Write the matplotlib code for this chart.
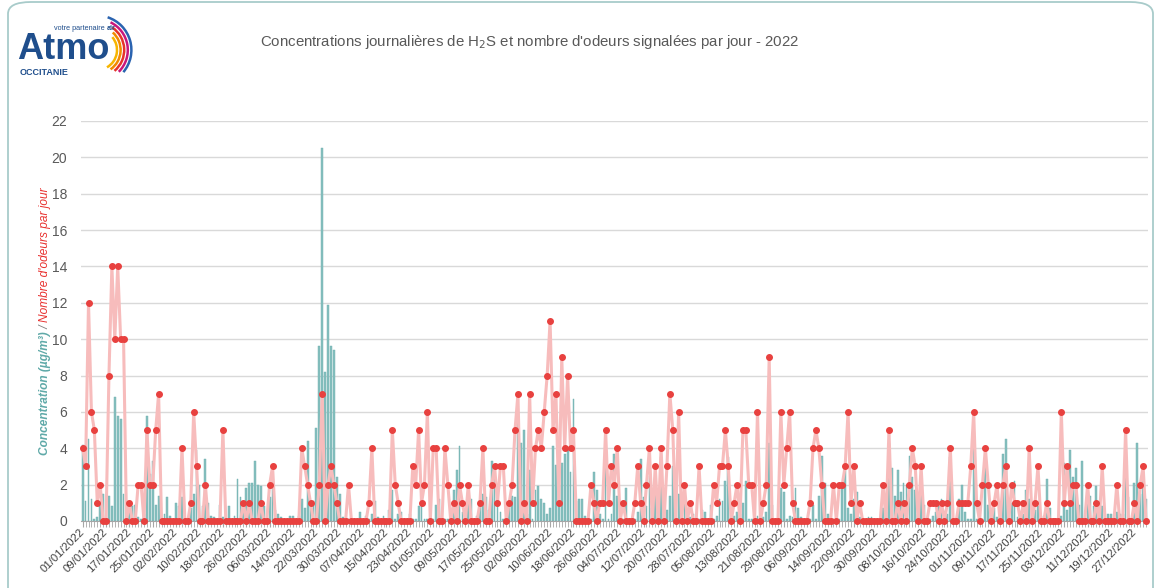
import matplotlib.pyplot as plt
import numpy as np
import pandas as pd
from matplotlib.patches import FancyBboxPatch, Arc

# daily values 2022 (one line = 30 days)
dates = pd.date_range("2022-01-01", "2022-12-31", freq="D")

concentration = [
    4.2, 1.1, 4.5, 1.2, 0.1, 0.2, 1.0, 1.5, 0.1, 1.4, 0.8, 6.8, 5.8, 5.6, 1.5, 0.4, 0.7, 0.8, 0.9, 0.2, 0.1, 0.4, 5.8, 2.6, 3.3, 0.9, 1.4, 0.1, 0.4, 1.3,
    0.3, 0.1, 1.0, 0.8, 1.3, 0.1, 0.1, 0.7, 1.5, 3.9, 2.0, 0.8, 3.4, 1.0, 0.3, 0.2, 0.1, 0.9, 0.2, 0.1, 0.8, 0.1, 0.3, 2.3, 1.3, 0.8, 1.8, 2.1, 2.1, 3.3,
    2.0, 1.9, 0.8, 0.1, 1.3, 2.3, 0.6, 0.4, 0.2, 0.1, 0.1, 0.3, 0.3, 0.1, 0.3, 1.2, 0.7, 4.4, 1.1, 1.1, 5.1, 9.6, 20.5, 8.2, 11.9, 9.6, 9.4, 2.4, 1.5, 0.2,
    0.1, 0.1, 0.1, 0.1, 0.1, 0.5, 0.1, 0.3, 0.1, 0.4, 1.1, 0.2, 0.1, 0.3, 0.1, 0.6, 1.7, 0.1, 0.4, 0.5, 0.1, 0.1, 0.4, 0.1, 0.1, 0.8, 1.6, 0.1, 0.1, 0.1,
    0.1, 0.9, 1.2, 0.1, 0.1, 0.1, 0.1, 1.7, 2.8, 4.1, 0.5, 0.1, 1.5, 1.2, 0.1, 0.3, 1.0, 1.5, 1.3, 0.6, 3.3, 2.3, 1.0, 0.5, 0.1, 0.1, 0.8, 1.4, 1.3, 6.0,
    4.3, 5.0, 0.4, 2.8, 0.1, 1.7, 1.9, 1.2, 1.0, 0.4, 0.7, 4.1, 3.1, 1.9, 3.2, 3.7, 4.0, 2.7, 6.7, 1.1, 1.2, 1.2, 0.3, 0.1, 0.1, 2.7, 1.7, 0.4, 0.1, 2.9,
    0.1, 0.4, 3.7, 1.4, 0.1, 0.1, 1.8, 0.1, 0.1, 0.1, 0.5, 3.4, 1.3, 0.8, 2.5, 0.7, 1.5, 1.4, 3.5, 0.8, 0.6, 1.4, 3.0, 0.1, 1.5, 0.1, 1.9, 0.6, 0.2, 0.4,
    0.1, 0.1, 0.6, 0.5, 0.1, 0.9, 0.1, 0.3, 1.2, 1.1, 2.2, 3.5, 0.1, 0.3, 0.5, 0.4, 1.0, 2.2, 0.1, 0.1, 0.1, 0.3, 0.3, 0.2, 0.5, 4.3, 0.9, 0.1, 0.1, 1.8,
    1.6, 0.1, 0.3, 0.2, 1.8, 0.7, 0.2, 0.1, 0.1, 0.1, 0.9, 0.1, 1.4, 3.6, 2.1, 0.4, 0.1, 0.1, 0.1, 0.1, 2.1, 2.8, 0.7, 0.4, 1.2, 1.6, 0.2, 0.1, 0.1, 0.2,
    0.2, 0.1, 0.1, 0.1, 0.7, 0.5, 4.3, 2.9, 1.4, 2.8, 1.6, 2.1, 2.0, 3.6, 2.4, 1.7, 0.4, 2.0, 0.9, 0.1, 0.1, 0.3, 0.5, 0.8, 1.2, 0.5, 0.4, 3.5, 0.1, 0.1,
    1.2, 2.0, 0.5, 0.1, 0.1, 4.1, 0.1, 0.1, 0.1, 3.0, 0.9, 0.5, 0.7, 0.2, 1.0, 3.7, 4.5, 0.1, 1.0, 2.2, 0.2, 0.1, 0.4, 1.7, 1.2, 0.1, 0.6, 0.8, 0.1, 0.3,
    2.3, 0.7, 0.1, 0.1, 0.1, 0.3, 3.2, 0.6, 3.9, 2.4, 2.9, 0.9, 3.3, 0.1, 1.0, 1.4, 0.8, 1.9, 0.4, 0.8, 0.1, 0.4, 0.4, 0.1, 0.5, 0.4, 0.4, 2.8, 1.3, 0.1,
    2.1, 4.3, 1.5, 2.4, 1.2,
]

odeurs = [
    4, 3, 12, 6, 5, 1, 2, 0, 0, 8, 14, 10, 14, 10, 10, 0, 1, 0, 0, 2, 2, 0, 5, 2, 2, 5, 7, 0, 0, 0,
    0, 0, 0, 0, 4, 0, 0, 1, 6, 3, 0, 0, 2, 0, 0, 0, 0, 0, 5, 0, 0, 0, 0, 0, 0, 1, 0, 1, 0, 0,
    0, 1, 0, 0, 2, 3, 0, 0, 0, 0, 0, 0, 0, 0, 0, 4, 3, 2, 1, 0, 0, 2, 7, 0, 2, 3, 2, 1, 0, 0,
    0, 2, 0, 0, 0, 0, 0, 0, 1, 4, 0, 0, 0, 0, 0, 0, 5, 2, 1, 0, 0, 0, 0, 3, 2, 5, 1, 2, 6, 0,
    4, 4, 0, 0, 4, 2, 0, 1, 0, 2, 1, 0, 2, 0, 0, 0, 1, 4, 0, 0, 2, 3, 1, 3, 3, 0, 1, 2, 5, 7,
    0, 1, 0, 7, 1, 4, 5, 4, 6, 8, 11, 5, 7, 1, 9, 4, 8, 4, 5, 0, 0, 0, 0, 0, 2, 1, 0, 1, 1, 5,
    1, 3, 2, 4, 0, 1, 0, 0, 0, 1, 3, 1, 0, 2, 4, 0, 3, 0, 4, 0, 3, 7, 5, 0, 6, 0, 2, 0, 1, 0,
    0, 3, 0, 0, 0, 0, 2, 1, 3, 3, 5, 3, 0, 1, 2, 0, 5, 5, 2, 2, 0, 6, 0, 1, 2, 9, 0, 0, 0, 6,
    2, 4, 6, 1, 0, 0, 0, 0, 0, 1, 4, 5, 4, 2, 0, 0, 0, 2, 0, 2, 2, 3, 6, 1, 3, 0, 1, 0, 0, 0,
    0, 0, 0, 0, 2, 0, 5, 0, 0, 1, 0, 1, 0, 2, 4, 3, 0, 3, 0, 0, 1, 1, 1, 0, 1, 0, 1, 4, 0, 0,
    1, 1, 1, 1, 3, 6, 1, 0, 2, 4, 2, 0, 1, 2, 0, 2, 3, 0, 2, 1, 1, 0, 1, 0, 4, 0, 1, 3, 0, 0,
    1, 0, 0, 0, 0, 6, 1, 3, 1, 2, 2, 0, 0, 0, 2, 0, 0, 1, 0, 3, 0, 0, 0, 0, 2, 0, 0, 5, 0, 0,
    1, 0, 2, 3, 0,
]

title = "Concentrations journalières de H$_2$S et nombre d'odeurs signalées par jour - 2022"

plt.rcParams['font.family'] = ['Liberation Sans', 'DejaVu Sans']

W, H = 1155, 588
fig = plt.figure(figsize=(W / 100, H / 100), dpi=100)

ax = fig.add_axes([81.2 / W, 1 - 521 / H, (1147.5 - 81.2) / W, 400 / H])
x = np.arange(len(dates))
ax.bar(x, concentration, width=0.62, color='#88c1c0', edgecolor='#6aacab', linewidth=0.3, zorder=2)
ax.plot(x, odeurs, color='#f7bcbc', lw=2.2, zorder=3)
ax.plot(x, odeurs, 'o', color='#e8413f', ms=4, zorder=4, clip_on=False)

ax.set_xlim(-0.5, len(x) - 0.5)
ax.set_ylim(0, 22)
ax.set_yticks(range(0, 23, 2))
ax.grid(axis='y', color='#d9d9d9', lw=1)
ax.set_axisbelow(True)
for s in ['top', 'right', 'left']:
    ax.spines[s].set_visible(False)
ax.spines['bottom'].set_color('#a6a6a6')
ax.tick_params(axis='y', length=0, labelcolor='#595959', labelsize=10, pad=10)

ax.set_xticks(x[::8])
ax.set_xticklabels([d.strftime('%d/%m/%Y') for d in dates[::8]], rotation=45,
                   ha='right', va='center', rotation_mode='anchor', fontsize=8.2, color='#404040')
ax.set_xticks(x, minor=True)
ax.tick_params(axis='x', which='both', length=4, color='#a6a6a6', pad=3)

fig.text(530 / W, 1 - 42 / H, title, ha='center', va='center', color='#595959', fontsize=10.8)

# y label in two colours
fig.canvas.draw()
r = fig.canvas.get_renderer()
ylab_x = 45 / W
y0 = 1 - 455 / H
for txt, col, wt in [("Concentration (µg/m³)", '#5fa9a8', 'bold'), (" / ", '#7f7f7f', 'normal'),
                     ("Nombre d'odeurs par jour", '#e8312f', 'normal')]:
    t = fig.text(ylab_x, y0, txt, rotation=90, ha='center', va='bottom', color=col,
                 fontsize=8.6, fontstyle='italic', fontweight=wt)
    bb = t.get_window_extent(r)
    y0 = bb.y1 / fig.bbox.height

# frame
frame = FancyBboxPatch((8 / W, -0.05), 1145 / W, 1.05 - 2 / H, boxstyle='round,pad=0,rounding_size=0.02',
                       transform=fig.transFigure, fill=False, ec='#a8cbca', lw=1.3)
fig.patches.append(frame)

# logo
fig.text(17 / W, 1 - 59 / H, 'Atmo', fontsize=26, fontweight='bold', color='#1f4e8c', va='baseline')
fig.text(20 / W, 1 - 68 / H, 'OCCITANIE', fontsize=6.5, fontweight='bold', color='#1f4e8c', va='top')
t1 = fig.text(54 / W, 1 - 28 / H, 'votre partenaire', fontsize=5.2, color='#1f4e8c', va='center')
bb = t1.get_window_extent(r)
fig.text(bb.x1 / W + 2 / W, 1 - 28 / H, 'air', fontsize=5.2, fontweight='bold', color='#1f4e8c', va='center')

lax = fig.add_axes([0, 0, 1, 1], facecolor='none')
lax.set_xlim(0, W)
lax.set_ylim(0, H)
lax.axis('off')
arc_colors = ['#f7b500', '#f18a00', '#e5332a', '#c8177b', '#2a63b0']
for i, c in enumerate(arc_colors):
    rad = 20 + i * 3.6
    lax.add_patch(Arc((97, H - 50), rad * 2, rad * 2, theta1=-60 + i * 5, theta2=40 + i * 8, color=c, lw=1.8))

fig.savefig('out.png', dpi=100)
